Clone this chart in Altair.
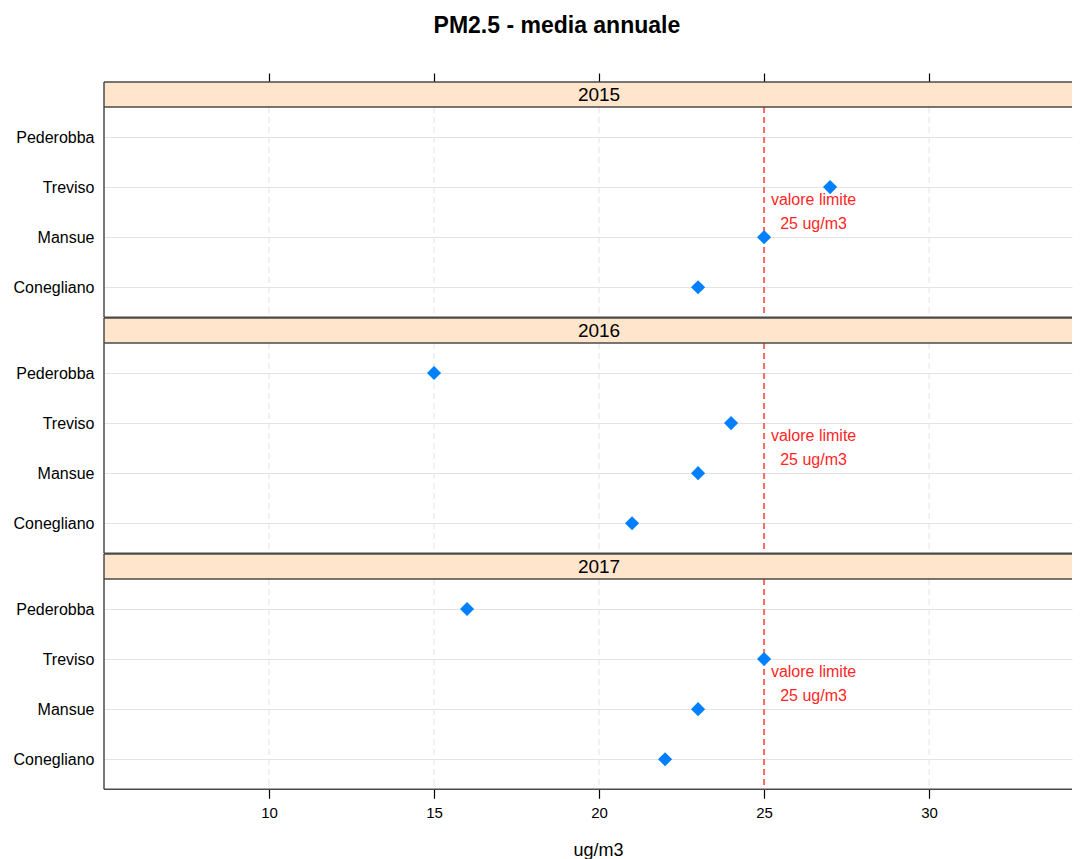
import altair as alt
import pandas as pd

# ---- data ----
stations = ["Conegliano", "Mansue", "Treviso", "Pederobba"]   # bottom -> top
years = ["2015", "2016", "2017"]
pm_2015 = [23, 25, 27, None]
pm_2016 = [21, 23, 24, 15]
pm_2017 = [22, 23, 25, 16]
limit_value = 25
limit_label = ["valore limite", "25 ug/m3"]
x_ticks = [10, 15, 20, 25, 30]
x_domain = [5, 34.33]
y_domain = [0.4, 4.6]

series = {"2015": pm_2015, "2016": pm_2016, "2017": pm_2017}

FONT = "Liberation Sans"
W = 968
STRIP = 25
BODY = 210.3
H = STRIP + BODY
BORDER = "#4a4a4a"
BW = 1.5

label_expr = "[''," + ",".join("'%s'" % s for s in stations) + "][datum.value]"

xscale = alt.Scale(domain=x_domain, nice=False, zero=False)
yscale = alt.Scale(domain=y_domain, range=[H, STRIP], nice=False, zero=False)


def x_axis(position):
    if position == "top":
        return alt.Axis(orient="top", values=x_ticks, labels=False, ticks=True,
                        tickSize=9, tickColor="#000", tickWidth=1.2,
                        domain=False, grid=False, title=None)
    if position == "bottom":
        return alt.Axis(orient="bottom", values=x_ticks, labels=True,
                        ticks=True, tickSize=9, tickColor="#000",
                        tickWidth=1.2, domain=False, grid=False,
                        labelFontSize=15, labelColor="#000", labelPadding=7,
                        labelFont=FONT, title="ug/m3", titleFontSize=18,
                        titleFontWeight="normal", titleColor="#000",
                        titlePadding=21, titleFont=FONT, titleX=494)
    return None


y_axis = alt.Axis(values=[1, 2, 3, 4], labelExpr=label_expr, ticks=False,
                  domain=False, grid=True, gridColor="#e3e3e3", gridWidth=1.2,
                  labelFontSize=16, labelColor="#000", labelPadding=10,
                  labelFont=FONT, title=None)


def panel(year, position):
    vals = series[year]
    df = pd.DataFrame({"station": stations,
                       "pos": list(range(1, len(stations) + 1)),
                       "value": vals}).dropna()
    ax = x_axis(position)
    one = pd.DataFrame({"year": [year]})
    ticks_df = pd.DataFrame({"tick": x_ticks})

    vgrid = alt.Chart(ticks_df).mark_rule(color="#e3e3e3", strokeDash=[6, 4],
                                          strokeWidth=1).encode(
        x=alt.X("tick:Q", scale=xscale, axis=ax),
        y=alt.value(STRIP), y2=alt.value(H))
    strip = alt.Chart(one).mark_rect(fill="#ffe5cc").encode(
        x=alt.value(0), x2=alt.value(W), y=alt.value(0), y2=alt.value(STRIP))
    strip_text = alt.Chart(one).mark_text(fontSize=19, font=FONT, color="#000",
                                          baseline="middle").encode(
        x=alt.XDatum(20, scale=xscale, axis=ax),
        y=alt.value(STRIP / 2), text="year:N")
    border_kw = dict(color=BORDER, strokeWidth=BW)
    top_line = alt.Chart(one).mark_rule(**border_kw).encode(
        x=alt.value(0), x2=alt.value(W), y=alt.value(0))
    strip_line = alt.Chart(one).mark_rule(**border_kw).encode(
        x=alt.value(0), x2=alt.value(W), y=alt.value(STRIP))
    bottom_line = alt.Chart(one).mark_rule(**border_kw).encode(
        x=alt.value(0), x2=alt.value(W), y=alt.value(H))
    left_line = alt.Chart(one).mark_rule(**border_kw).encode(
        x=alt.value(0), y=alt.value(0), y2=alt.value(H))
    rule = alt.Chart(one).mark_rule(color="#ff6666", strokeDash=[6, 4],
                                    strokeWidth=2).encode(
        x=alt.XDatum(limit_value, scale=xscale, axis=ax),
        y=alt.value(STRIP), y2=alt.value(H))
    pts = alt.Chart(df).mark_point(shape="diamond", filled=True, size=200,
                                   color="#0080ff", opacity=1).encode(
        x=alt.X("value:Q", scale=xscale, axis=ax),
        y=alt.Y("pos:Q", scale=yscale, axis=y_axis))
    txt1 = alt.Chart(one).mark_text(color="#ff2626", fontSize=16, font=FONT,
                                    dy=-12, baseline="middle").encode(
        x=alt.XDatum(26.5, scale=xscale, axis=ax),
        y=alt.YDatum(2.5, scale=yscale, axis=y_axis),
        text=alt.value(limit_label[0]))
    txt2 = alt.Chart(one).mark_text(color="#ff2626", fontSize=16, font=FONT,
                                    dy=12, baseline="middle").encode(
        x=alt.XDatum(26.5, scale=xscale, axis=ax),
        y=alt.YDatum(2.5, scale=yscale, axis=y_axis),
        text=alt.value(limit_label[1]))
    return alt.layer(vgrid, strip, strip_text, rule, pts, txt1, txt2,
                     top_line, strip_line, bottom_line, left_line).properties(
        width=W, height=H)


panels = [panel("2015", "top"), panel("2016", "mid"), panel("2017", "bottom")]

chart = alt.vconcat(*panels, spacing=0, bounds="flush").properties(
    title=alt.TitleParams("PM2.5 - media annuale", fontSize=23,
                          fontWeight="bold", font=FONT, color="#000",
                          anchor="middle", offset=34, dx=14),
    padding={"left": 5, "top": 7, "right": 0, "bottom": 0},
).configure(background="white").configure_view(stroke=None)

chart.save("out.html", embed_options={"renderer": "svg", "actions": False})
